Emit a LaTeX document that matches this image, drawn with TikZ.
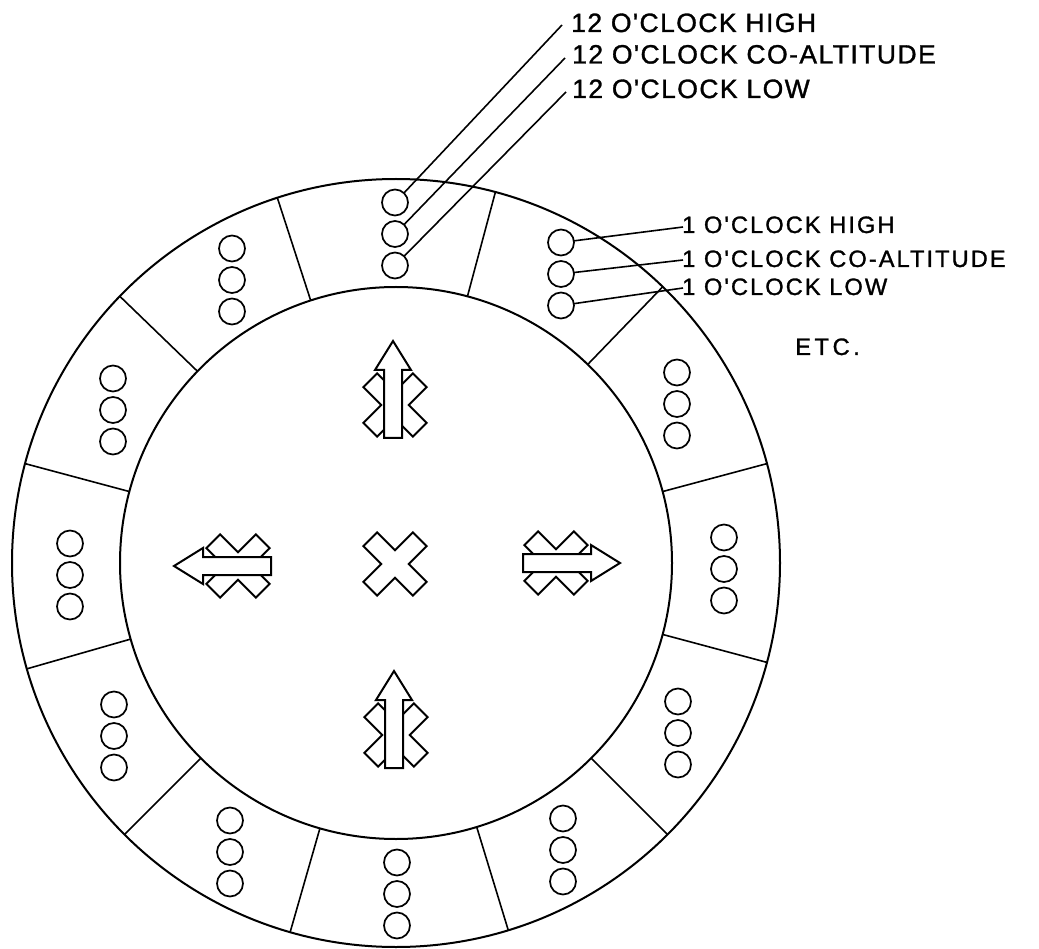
\documentclass[tikz,border=0pt]{standalone}
\usepackage{fontspec}
\usetikzlibrary{calc}
\newfontfamily\leroyA[LetterSpace=5.5,FakeBold=1.2]{Liberation Sans}
\newfontfamily\leroyB[LetterSpace=8.5,FakeBold=1.2]{Liberation Sans}
\newfontfamily\leroyC[LetterSpace=15,FakeBold=1.2]{Liberation Sans}
\tikzset{
  bigring/.style={line width=2pt},
  divider/.style={line width=1.6pt},
  dotc/.style={circle, draw, line width=1.7pt, minimum size=26pt, inner sep=0pt, outer sep=0pt},
  leader/.style={line width=1.6pt},
  lbltw/.style={anchor=base west, inner sep=0pt, font=\leroyA\fontsize{26.5}{30}\selectfont},
  lblone/.style={anchor=base west, inner sep=0pt, font=\leroyB\fontsize{23.7}{28}\selectfont},
  lbletc/.style={anchor=base west, inner sep=0pt, font=\leroyC\fontsize{23.7}{28}\selectfont},
  glyphline/.style={line width=2pt, line join=miter},
  xmark/.pic={
    \draw[glyphline, fill=white, rotate=45]
      (35,9.75) -- (35,-9.75) -- (9.75,-9.75) -- (9.75,-35) -- (-9.75,-35) -- (-9.75,-9.75)
      -- (-35,-9.75) -- (-35,9.75) -- (-9.75,9.75) -- (-9.75,35) -- (9.75,35) -- (9.75,9.75) -- cycle;
  },
  blockarrow/.pic={
    \draw[glyphline, fill=white]
      (-33,-9) -- (35,-9) -- (35,-18) -- (64,0) -- (35,18) -- (35,9) -- (-33,9) -- cycle;
  },
}
\begin{document}
\begin{tikzpicture}[x=1pt,y=-1pt]
\useasboundingbox (0,0) rectangle (1039,949);
\coordinate (ctr) at (396,563);
% rings
\draw[bigring] (ctr) circle[radius=384pt];
\draw[bigring] (ctr) circle[radius=276pt];
% dividers
\foreach \a in {-75,-46,-15,15,45,73,106,135,164,-165,-136,-108}
  \draw[divider] ($(ctr)+(\a:276)$) -- ($(ctr)+(\a:384)$);
% circle groups (high, co-altitude, low)
\foreach \n/\x/\y in {12/395/234, 1/561/274, 2/677/404, 3/724/569, 4/678/733, 5/563/850,
                      6/397/894, 7/230/852, 8/114/736, 9/70/575, 10/113/410, 11/232/280}{
  \node[dotc] (c\n a) at (\x,\y-31.5) {};
  \node[dotc] (c\n b) at (\x,\y) {};
  \node[dotc] (c\n c) at (\x,\y+31.5) {};
}
% centre symbols
\pic at (395,564) {xmark};
\pic at (395,405) {xmark};
\pic[rotate=90] at (393,405) {blockarrow};
\pic at (396,735) {xmark};
\pic[rotate=90] at (394,735) {blockarrow};
\pic at (238,566) {xmark};
\pic[rotate=180] at (238,566) {blockarrow};
\pic at (556,563) {xmark};
\pic at (556,563) {blockarrow};
% labels
\node[lbltw] (t12a) at (571,32) {12 O'CLOCK HIGH};
\node[lbltw] (t12b) at (572,63.5) {12 O'CLOCK CO-ALTITUDE};
\node[lbltw] (t12c) at (572,98) {12 O'CLOCK LOW};
\node[lblone] (t1a) at (682,233) {1 O'CLOCK HIGH};
\node[lblone] (t1b) at (682,267) {1 O'CLOCK CO-ALTITUDE};
\node[lblone] (t1c) at (682,295) {1 O'CLOCK LOW};
\node[lbletc] (tetc) at (795,355) {ETC.};
% leader lines
\coordinate (e12a) at ($(t12a.base west)+(-9,-7)$);
\coordinate (e12b) at ($(t12b.base west)+(-7,-5.5)$);
\coordinate (e12c) at ($(t12c.base west)+(-6,-6)$);
\coordinate (e1a) at ($(t1a.base west)+(1,-6)$);
\coordinate (e1b) at ($(t1b.base west)+(1,-7)$);
\coordinate (e1c) at ($(t1c.base west)+(1,-7)$);
\draw[leader] (c12a) -- (e12a);
\draw[leader] (c12b) -- (e12b);
\draw[leader] (c12c) -- (e12c);
\draw[leader] (c1a) -- (e1a);
\draw[leader] (c1b) -- (e1b);
\draw[leader] (c1c) -- (e1c);
\end{tikzpicture}
\end{document}
